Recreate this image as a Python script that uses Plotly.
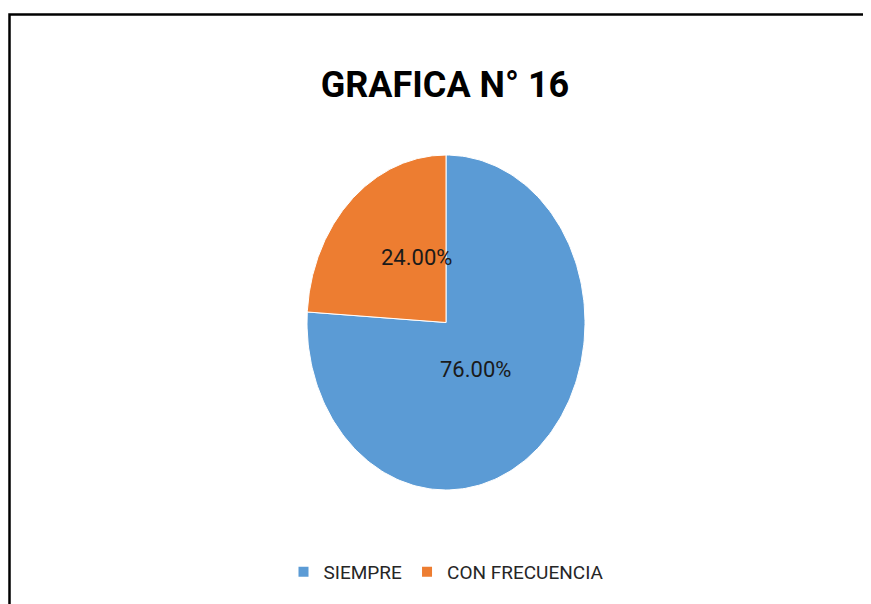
import numpy as np
import plotly.graph_objects as go

# data
categories = ["SIEMPRE", "CON FRECUENCIA"]
values = [76.0, 24.0]
colors = ["#5B9BD5", "#ED7D31"]
title_text = "GRAFICA N° 16"

FONT = "Roboto, Arial, sans-serif"
W, H = 871, 604
OFF = 8  # page body margin shifts the plot by 8px

def px(x):
    return (x - OFF) / W

def py(y):
    return 1 - (y - OFF) / H

fig = go.Figure()

# pie drawn as elliptical wedges (the original pie is stretched vertically)
total = sum(values)
start = 0.0
label_pts = []
for cat, val, col in zip(categories, values, colors):
    span = val / total * 2 * np.pi
    th = np.linspace(start, start + span, 200)
    xs = np.concatenate([[0], np.sin(th), [0]])
    ys = np.concatenate([[0], np.cos(th), [0]])
    fig.add_trace(go.Scatter(x=xs, y=ys, mode="lines", fill="toself",
                             fillcolor=col, line=dict(color="white", width=1),
                             hoverinfo="text", text=cat, showlegend=False))
    mid = start + span / 2
    label_pts.append((np.sin(mid) * 0.31, np.cos(mid) * 0.46, "%.2f%%" % val))
    start += span

# legend entries (square swatches)
for cat, col in zip(categories, colors):
    fig.add_trace(go.Scatter(x=[None], y=[None], mode="markers", name=cat,
                             marker=dict(symbol="square", size=10, color=col)))

for lx, ly, txt in label_pts:
    fig.add_annotation(x=lx, y=ly, text=txt, showarrow=False, yshift=9,
                       font=dict(family=FONT, size=22, color="#1a1a1a"))

# chart border
fig.add_shape(type="rect", xref="paper", yref="paper",
              x0=px(9.5), x1=1.02, y0=-0.02, y1=py(14.5),
              line=dict(color="black", width=2.5))

fig.update_layout(
    width=W, height=H,
    margin=dict(l=0, r=0, t=0, b=0),
    paper_bgcolor="white", plot_bgcolor="white",
    title=dict(text="<b>" + title_text + "</b>", x=px(445), xanchor="center",
               y=py(84), yanchor="middle",
               font=dict(family=FONT, size=36, color="black")),
    xaxis=dict(range=[-1, 1], domain=[px(307), px(585)], visible=False,
               fixedrange=True),
    yaxis=dict(range=[-1, 1], domain=[py(490), py(155)], visible=False,
               fixedrange=True),
    legend=dict(orientation="h", x=px(446), xanchor="center", y=py(572),
                yanchor="middle", font=dict(family=FONT, size=19, color="#262626"),
                itemwidth=30),
    showlegend=True,
)

fig.write_html("out.html")
